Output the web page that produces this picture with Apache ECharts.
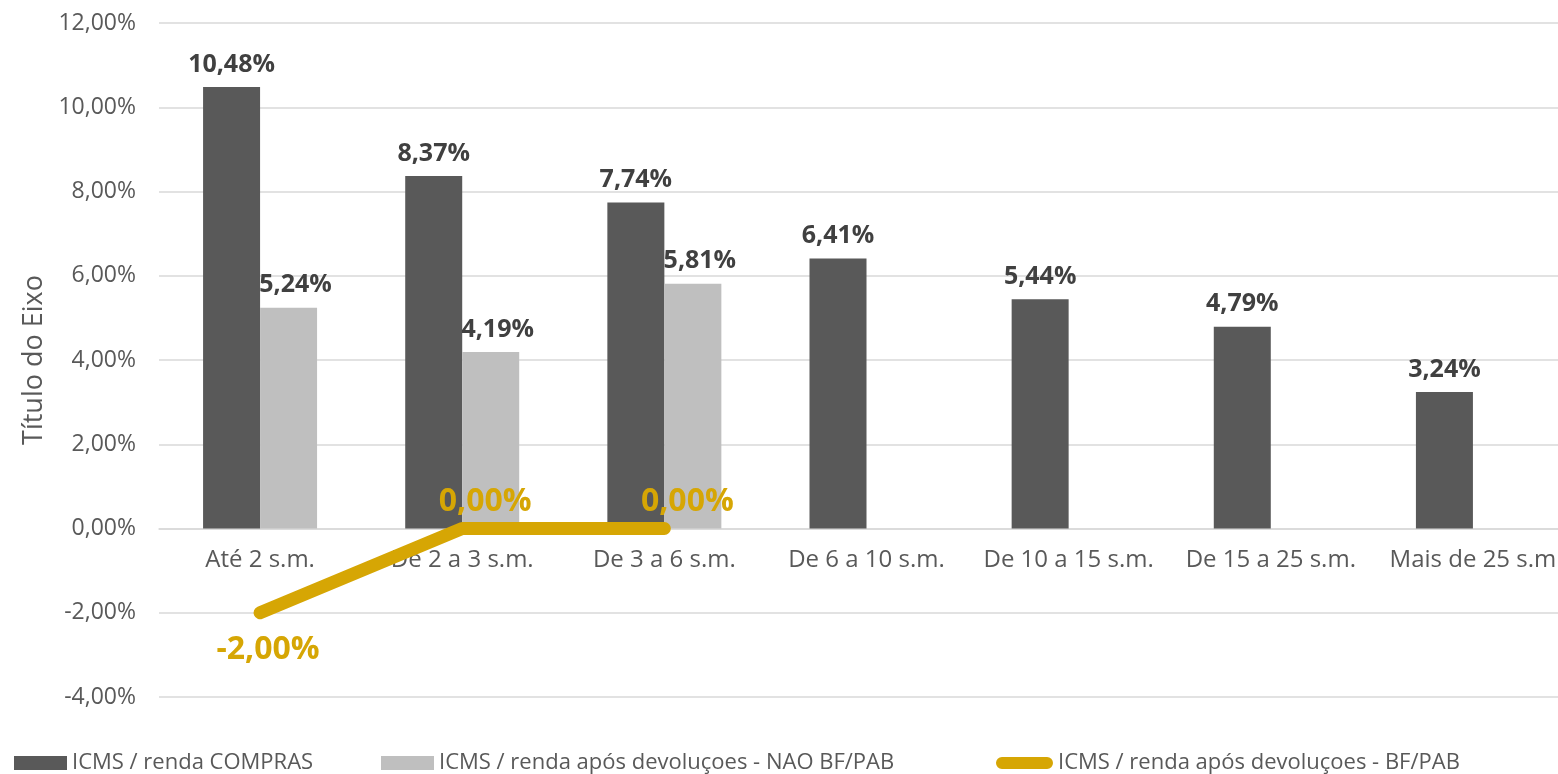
<!DOCTYPE html>
<html>
<head>
<meta charset="utf-8">
<script src="https://cdn.jsdelivr.net/npm/echarts@6/dist/echarts.min.js"></script>
<style>html,body{margin:0;padding:0;background:#fff;overflow:hidden}#c{width:1574px;height:774px}</style>
</head>
<body>
<div id="c"></div>
<script>
const categories = ['Até 2 s.m.', 'De 2 a 3 s.m.', 'De 3 a 6 s.m.', 'De 6 a 10 s.m.', 'De 10 a 15 s.m.', 'De 15 a 25 s.m.', 'Mais de 25 s.m'];
const seriesNames = ['ICMS / renda COMPRAS', 'ICMS / renda após devoluçoes - NAO BF/PAB', 'ICMS / renda após devoluçoes - BF/PAB'];
const compras = [10.48, 8.37, 7.74, 6.41, 5.44, 4.79, 3.24];
const naoBf = [5.24, 4.19, 5.81, null, null, null, null];
const bf = [-2.00, 0.00, 0.00, null, null, null, null];
const yMin = -4, yMax = 12, yInterval = 2;
const axisTitle = 'Título do Eixo';

const FONT = 'Open Sans';
const fmt = v => (v == null ? '' : Number(v).toFixed(2).replace('.', ',') + '%');
const GOLD = '#D6A604';

const gridTop = 23, gridBottom = 77, H = 774;
const gridH = H - gridTop - gridBottom;
const zeroOffset = gridH * (0 - yMin) / (yMax - yMin);

const legendBase = {
  top: 747,
  itemWidth: 53, itemHeight: 14, itemGap: 0,
  textStyle: { fontFamily: FONT, fontSize: 22, color: '#595959' }
};

const chart = echarts.init(document.getElementById('c'));
chart.setOption({
  backgroundColor: '#fff',
  animation: false,
  textStyle: { fontFamily: FONT },
  grid: { left: 159, right: 0, top: gridTop, bottom: gridBottom, containLabel: false },
  legend: [
    Object.assign({}, legendBase, { left: 9, data: [{ name: seriesNames[0], icon: 'rect' }] }),
    Object.assign({}, legendBase, { left: 376, data: [{ name: seriesNames[1], icon: 'rect' }] }),
    Object.assign({}, legendBase, { left: 991, itemWidth: 57, data: [{ name: seriesNames[2], icon: 'path://M6,0 H52 A6,6 0 0 1 52,12 H6 A6,6 0 0 1 6,0 Z' }] })
  ],
  xAxis: {
    type: 'category',
    data: categories,
    position: 'bottom',
    offset: -zeroOffset,
    axisLine: { show: true, onZero: false, lineStyle: { color: '#D9D9D9', width: 1.5 } },
    axisTick: { show: false },
    axisLabel: { color: '#595959', fontSize: 24, fontFamily: FONT, margin: 20, interval: 0 }
  },
  yAxis: {
    type: 'value',
    min: yMin, max: yMax, interval: yInterval,
    name: axisTitle,
    nameLocation: 'middle',
    nameGap: 111,
    nameTextStyle: { color: '#595959', fontSize: 27, fontFamily: FONT },
    axisLine: { show: false },
    axisTick: { show: false },
    splitLine: { lineStyle: { color: '#D9D9D9', width: 1.5 } },
    axisLabel: { color: '#595959', fontSize: 23, fontFamily: FONT, margin: 23, formatter: v => fmt(v) }
  },
  series: [
    {
      name: seriesNames[0], type: 'bar', data: compras,
      barWidth: 57, barGap: '0%',
      itemStyle: { color: '#595959' },
      label: { show: true, position: 'top', distance: 10, color: '#404040', fontWeight: 'bold', fontSize: 25, fontFamily: FONT, formatter: p => fmt(p.value) }
    },
    {
      name: seriesNames[1], type: 'bar', data: naoBf,
      barWidth: 57, barGap: '0%',
      itemStyle: { color: '#BFBFBF' },
      label: { show: true, position: 'top', distance: 10, color: '#404040', fontWeight: 'bold', fontSize: 25, fontFamily: FONT, offset: [7, 0], formatter: p => fmt(p.value) }
    },
    {
      name: seriesNames[2], type: 'line', z: 5,
      data: bf.map(v => v == null ? null : {
        value: v,
        label: v < 0 ? { position: 'bottom', distance: 20, offset: [8, 0] } : { position: 'top', distance: 10, offset: [23, 0] }
      }),
      symbol: 'circle', symbolSize: 2,
      itemStyle: { color: GOLD },
      lineStyle: { color: GOLD, width: 13, cap: 'round', join: 'round' },
      label: { show: true, color: GOLD, fontWeight: 'bold', fontSize: 32, fontFamily: FONT, formatter: p => fmt(p.value) }
    }
  ]
});
</script>
</body>
</html>
